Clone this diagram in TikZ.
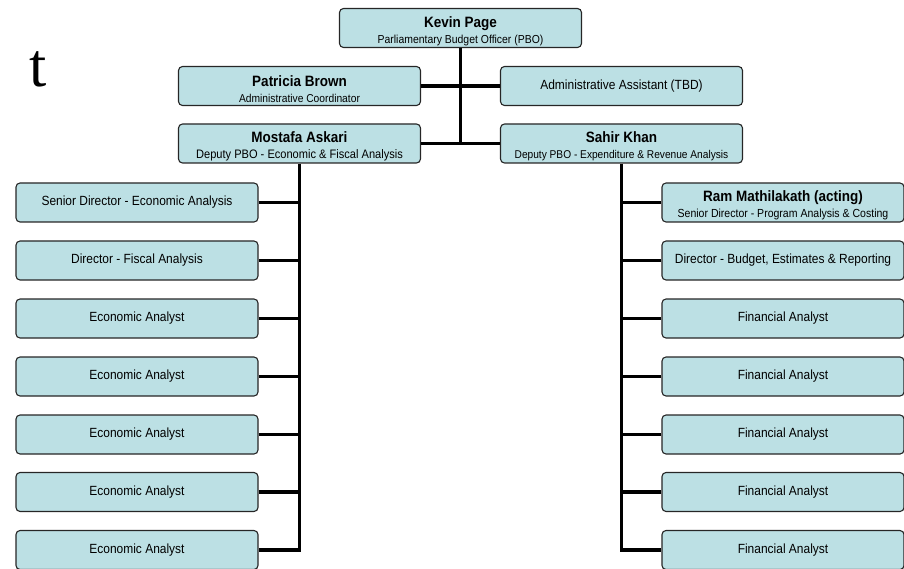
\documentclass[tikz,border=0pt]{standalone}
\usepackage{fontspec}
\setmainfont{Liberation Sans}[FakeStretch=0.9]
\newfontfamily\titlefont{Liberation Serif}
\usepackage{tikz}
\usepackage{color}

\definecolor{boxfill}{RGB}{188,224,228}
\newcommand{\staff}[3][11.5]{\rule{0pt}{17pt}{\fontsize{15}{16}\selectfont\bfseries #2}\\{\fontsize{#1}{16}\selectfont #3}}

\tikzset{
  box/.style={draw=black!85, line width=1.1pt, fill=boxfill, rounded corners=4pt,
    minimum width=242pt, minimum height=39pt, inner sep=0pt, align=center,
    font=\fontsize{13.3}{16}\selectfont},
  link/.style={line width=3.8pt}
}

\begin{document}
\begin{tikzpicture}[x=1pt,y=-1pt]
	  \useasboundingbox (0,0) rectangle (904,569);

	  % Title fragment
	  \node[anchor=base west, inner sep=0pt, font=\titlefont\fontsize{62}{66}\selectfont] (title) at (29,87) {t};

	  % Nodes
	  \node[box] (pbo) at (460.5,28) {\staff[11.6]{Kevin Page}{Parliamentary Budget Officer (PBO)}};
	  \node[box] (coord) at (299.5,86) {\staff[11.4]{Patricia Brown}{Administrative Coordinator}};
	  \node[box] (assist) at (621.5,86) {Administrative Assistant (TBD)};
	  \node[box] (econdep) at (299.5,143.5) {\staff[12.3]{Mostafa Askari}{Deputy PBO - Economic \& Fiscal Analysis}};
	  \node[box] (expdep) at (621.5,143.5) {\staff[11.3]{Sahir Khan}{Deputy PBO - Expenditure \& Revenue Analysis}};

	  % Economic & fiscal side
	  \node[box] (ecsd) at (137,202.5) {Senior Director - Economic Analysis};
	  \node[box] (ecd) at (137,260.5) {Director - Fiscal Analysis};
	  \node[box] (eca1) at (137,318.5) {Economic Analyst};
	  \node[box] (eca2) at (137,376.5) {Economic Analyst};
	  \node[box] (eca3) at (137,434.5) {Economic Analyst};
	  \node[box] (eca4) at (137,492) {Economic Analyst};
	  \node[box] (eca5) at (137,550) {Economic Analyst};

	  % Expenditure & revenue side
	  \node[box] (exsd) at (783,202.5) {\staff[11.7]{Ram Mathilakath (acting)}{Senior Director - Program Analysis \& Costing}};
	  \node[box] (exd) at (783,260.5) {Director - Budget, Estimates \& Reporting};
	  \node[box] (fa1) at (783,318.5) {Financial Analyst};
	  \node[box] (fa2) at (783,376.5) {Financial Analyst};
	  \node[box] (fa3) at (783,434.5) {Financial Analyst};
	  \node[box] (fa4) at (783,492) {Financial Analyst};
	  \node[box] (fa5) at (783,550) {Financial Analyst};

	  % Lines
	  \draw[link] (pbo.south) -- (pbo.south |- expdep.west); % PBO trunk
	  \draw[link] (coord.east) -- (assist.west);
	  \draw[link] (econdep.east) -- (expdep.west);
	  \draw[link] (econdep.south) -- (econdep.south |- eca5.east) -- (eca5.east); % left trunk
	  \foreach \n in {ecsd,ecd,eca1,eca2,eca3,eca4}
	    \draw[link] (\n.east) -- (econdep.south |- \n.east);
	  \draw[link] (expdep.south) -- (expdep.south |- fa5.west) -- (fa5.west); % right trunk
	  \foreach \n in {exsd,exd,fa1,fa2,fa3,fa4}
	    \draw[link] (\n.west) -- (expdep.south |- \n.west);
	\end{tikzpicture}
\end{document}
